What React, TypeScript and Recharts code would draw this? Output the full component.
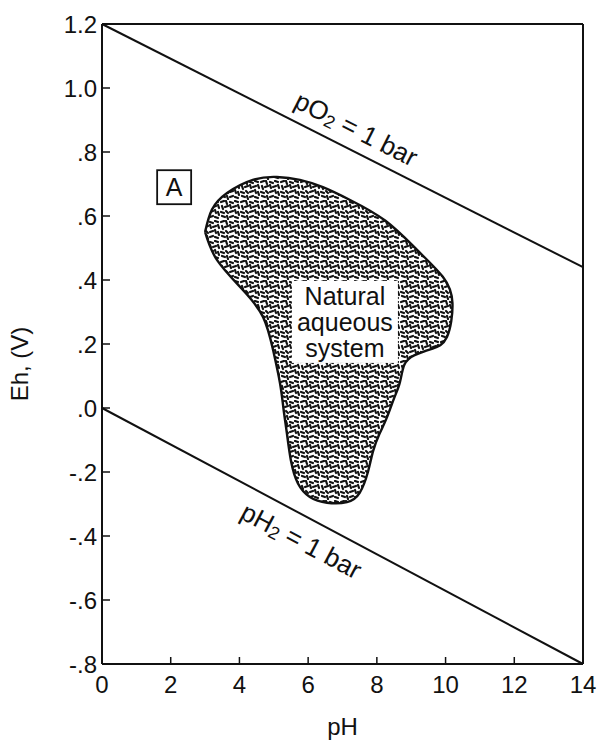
import React from 'react';
import { ComposedChart, XAxis, YAxis, Line, Area, ReferenceLine, ReferenceDot } from 'recharts';

const FONT = '"Liberation Sans", Arial, Helvetica, sans-serif';
const INK = '#111';

// axis ticks
const xTicks = [0, 2, 4, 6, 8, 10, 12, 14];
const yTicks = [1.2, 1.0, 0.8, 0.6, 0.4, 0.2, 0, -0.2, -0.4, -0.6, -0.8];
const yTickLabels = ['1.2', '1.0', '.8', '.6', '.4', '.2', '.0', '-.2', '-.4', '-.6', '-.8'];

// water stability limits
const o2LinePH = [0, 14];
const o2LineEh = [1.2, 0.44];
const h2LinePH = [0, 14];
const h2LineEh = [0, -0.8];

// outline of the natural aqueous system field (closed loop)
const blobPH = [3.0, 3.2, 3.64, 4.39, 5.09, 5.76, 6.43, 7.22, 8.25, 9.17, 9.92, 10.2, 10.04, 9.6, 9.1, 8.8, 8.67, 8.5, 8.29, 8.08, 7.89, 7.74, 7.5, 7.13, 6.55, 6.05, 5.7, 5.5, 5.38, 5.28, 5.18, 4.98, 4.69, 4.1, 3.35, 3.0];
const blobEh = [0.55, 0.62, 0.672, 0.713, 0.722, 0.713, 0.69, 0.65, 0.585, 0.494, 0.41, 0.328, 0.222, 0.185, 0.165, 0.135, 0.08, 0.03, -0.03, -0.08, -0.135, -0.2, -0.265, -0.294, -0.296, -0.278, -0.235, -0.165, -0.078, 0.0, 0.078, 0.181, 0.284, 0.369, 0.462, 0.55];

const o2Data = o2LinePH.map((pH, i) => ({ pH, Eh: o2LineEh[i] }));
const h2Data = h2LinePH.map((pH, i) => ({ pH, Eh: h2LineEh[i] }));
const blobData = blobPH.map((pH, i) => ({ pH, Eh: blobEh[i] }));

const XTick = (props: any) => {
  const { x, y, payload } = props;
  return (
    <g>
      <line x1={x} x2={x} y1={y - 11} y2={y - 18} stroke={INK} strokeWidth={1.5} />
      <text x={x} y={y + 18} textAnchor="middle" fontSize={24} fontFamily={FONT} fill={INK}>
        {payload.value}
      </text>
    </g>
  );
};

const YTick = (props: any) => {
  const { x, y, payload } = props;
  const idx = yTicks.findIndex((v) => Math.abs(v - payload.value) < 1e-6);
  return (
    <g>
      <line x1={x + 5} x2={x + 13} y1={y} y2={y} stroke={INK} strokeWidth={1.5} />
      <text x={x} y={y + 9} textAnchor="end" fontSize={24} fontFamily={FONT} fill={INK}>
        {yTickLabels[idx]}
      </text>
    </g>
  );
};

const center = (vb: any) => ({ cx: vb.x + vb.width / 2, cy: vb.y + vb.height / 2 });

const BoxA = (props: any) => {
  const { cx, cy } = center(props.viewBox);
  return (
    <g>
      <rect x={cx - 17} y={cy - 17} width={34} height={34} fill="#fff" stroke={INK} strokeWidth={1.8} />
      <text x={cx} y={cy + 9} textAnchor="middle" fontSize={25} fontFamily={FONT} fill={INK}>A</text>
    </g>
  );
};

const NaturalLabel = (props: any) => {
  const { cx, cy } = center(props.viewBox);
  const t = { textAnchor: 'middle' as const, fontSize: 25, fontFamily: FONT, fill: INK };
  return (
    <g>
      <rect x={cx - 53} y={cy - 41} width={106} height={82} fill="#fff" />
      <text x={cx} y={cy - 17} {...t}>Natural</text>
      <text x={cx} y={cy + 9} {...t}>aqueous</text>
      <text x={cx} y={cy + 35} {...t}>system</text>
    </g>
  );
};

const lineLabel = (species: string, angle: number) => (props: any) => {
  const { cx, cy } = center(props.viewBox);
  return (
    <text
      x={cx}
      y={cy}
      transform={`rotate(${angle}, ${cx}, ${cy})`}
      textAnchor="middle"
      dominantBaseline="central"
      fontSize={26}
      fontFamily={FONT}
      fill={INK}
    >
      <tspan>p{species}</tspan>
      <tspan dy={6} fontSize={18}>2</tspan>
      <tspan dy={-6}> = 1 bar</tspan>
    </text>
  );
};

const emptyShape = () => <g />;

// short dashes for the stippled fill
const dashes = [
  'M1 2 L4 1', 'M6 1 L7 4', 'M10 2 L13 3', 'M15 1 L18 2',
  'M2 6 L3 9', 'M5 7 L8 6', 'M10 5 L11 8', 'M13 7 L16 6', 'M18 5 L19 8',
  'M1 12 L4 13', 'M6 11 L8 13', 'M10 12 L13 11', 'M15 10 L16 13', 'M18 12 L19 15',
  'M2 16 L5 17', 'M7 16 L8 19', 'M10 17 L13 16', 'M15 17 L18 18',
];

export default function App() {
  return (
    <div style={{ position: 'absolute', left: 0, top: 0, background: '#fff' }}>
      <ComposedChart width={600} height={740} margin={{ top: 24, right: 17, left: 0, bottom: 0 }}>
        <defs>
          <pattern id="stipple" width="20" height="20" patternUnits="userSpaceOnUse">
            <rect width="20" height="20" fill="#fff" />
            <g stroke={INK} strokeWidth={2.2} strokeLinecap="round" fill="none">
              {dashes.map((d) => (
                <path key={d} d={d} />
              ))}
            </g>
          </pattern>
        </defs>
        <XAxis
          dataKey="pH"
          type="number"
          domain={[0, 14]}
          ticks={xTicks}
          interval={0}
          height={76}
          tickSize={0}
          tickMargin={11}
          tickLine={false}
          axisLine={{ stroke: INK, strokeWidth: 2 }}
          tick={<XTick />}
          label={(p: any) => (
            <text
              x={p.viewBox.x + p.viewBox.width / 2}
              y={p.viewBox.y + 71}
              textAnchor="middle"
              fontSize={24}
              fontFamily={FONT}
              fill={INK}
            >
              pH
            </text>
          )}
        />
        <YAxis
          dataKey="Eh"
          type="number"
          domain={[-0.8, 1.2]}
          ticks={yTicks}
          interval={0}
          width={102}
          tickSize={0}
          tickMargin={5}
          tickLine={false}
          axisLine={{ stroke: INK, strokeWidth: 2 }}
          tick={<YTick />}
          label={(p: any) => {
            const x = p.viewBox.x + 19;
            const y = p.viewBox.y + p.viewBox.height / 2 + 20;
            return (
              <text
                x={x}
                y={y}
                transform={`rotate(-90, ${x}, ${y})`}
                textAnchor="middle"
                dominantBaseline="central"
                fontSize={24}
                fontFamily={FONT}
                fill={INK}
              >
                Eh, (V)
              </text>
            );
          }}
        />
        <ReferenceLine y={1.2} stroke={INK} strokeWidth={2} />
        <ReferenceLine x={14} stroke={INK} strokeWidth={2} />
        <Area
          data={blobData}
          dataKey="Eh"
          type="natural"
          stroke={INK}
          strokeWidth={2.4}
          fill="url(#stipple)"
          fillOpacity={1}
          dot={false}
          activeDot={false}
          isAnimationActive={false}
        />
        <Line data={o2Data} dataKey="Eh" type="linear" stroke={INK} strokeWidth={2} dot={false} activeDot={false} isAnimationActive={false} />
        <Line data={h2Data} dataKey="Eh" type="linear" stroke={INK} strokeWidth={2} dot={false} activeDot={false} isAnimationActive={false} />
        <ReferenceDot x={2.1} y={0.69} r={1} shape={emptyShape} label={BoxA} />
        <ReferenceDot x={7.07} y={0.269} r={1} shape={emptyShape} label={NaturalLabel} />
        <ReferenceDot x={7.4} y={0.872} r={1} shape={emptyShape} label={lineLabel('O', 26.9)} />
        <ReferenceDot x={5.8} y={-0.415} r={1} shape={emptyShape} label={lineLabel('H', 28)} />
      </ComposedChart>
    </div>
  );
}
